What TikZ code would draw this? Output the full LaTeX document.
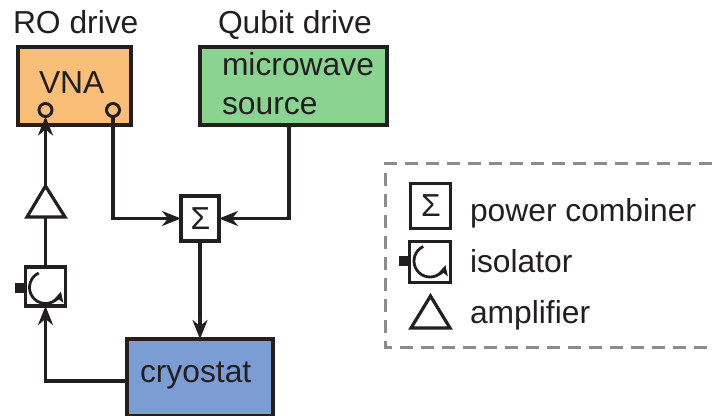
\documentclass[tikz,border=0pt]{standalone}
\usepackage{fontspec}
\setmainfont{Liberation Sans}
\usetikzlibrary{arrows.meta}
\definecolor{ink}{HTML}{231F20}
\definecolor{vnacol}{HTML}{F9BE78}
\definecolor{mwcol}{HTML}{8AD391}
\definecolor{cryocol}{HTML}{7C9DD3}
\definecolor{dashcol}{HTML}{8C8C8C}
\tikzset{
  x=1pt,y=1pt,
  every node/.style={text=ink,inner sep=0pt,outer sep=0pt},
  lbl/.style={anchor=base west,font=\fontsize{31.8}{32}\selectfont},
  box/.style={draw=ink,line width=3.4pt,anchor=north west},
  symbox/.style={draw=ink,fill=white,line width=3.4pt,anchor=center,font=\fontsize{31.8}{32}\selectfont},
  port/.style={circle,draw=ink,line width=3pt,minimum size=13pt},
  wire/.style={draw=ink,line width=3.3pt},
  arrow/.style={wire,-{Stealth[length=19pt,width=15pt,inset=6pt]}},
  ampl/.style={draw=ink,line width=3.2pt,fill=white,line join=miter},
  pics/circ/.style={code={
    \fill[ink] (-31,-5) rectangle (-22,5);
    \draw[ink,line width=2.8pt,-{Stealth[length=10pt,width=10pt,inset=2pt]}] (115:16) arc (115:345:16);
  }}
}
\begin{document}
\begin{tikzpicture}
\useasboundingbox (0,0) rectangle (712,-415);
% main boxes
\node[box,fill=vnacol,minimum width=113pt,minimum height=78pt] (vna) at (18,-47) {};
\node[box,fill=mwcol,minimum width=187pt,minimum height=78pt] (mw) at (200,-47) {};
\begin{scope}
\clip (0,0) rectangle (712,-415);
\node[box,fill=cryocol,minimum width=146pt,minimum height=77pt] (cryo) at (127,-339) {};
\end{scope}
\node[port] (pin) at (45.5,-110) {};
\node[port] (pout) at (113,-110) {};
\node[symbox,minimum width=38pt,minimum height=45pt] (sum) at (200,-218.5) {\rlap{\kern-9.5pt\raisebox{-11pt}{Σ}}};
\node[symbox,minimum width=40pt,minimum height=39pt] (iso) at (45.5,-286.5) {};
\pic at (45.5,-287.5) {circ};
\coordinate (amptop) at (45.5,-186);
\coordinate (ampbot) at (45.5,-217);
\draw[ampl] (amptop) -- (27,-217) -- (65,-217) -- cycle;
% text
\node[lbl] (t1) at (13,-33) {RO drive};
\node[lbl] (t2) at (218,-33) {Qubit drive};
\node[lbl] (t3) at (39,-93) {VNA};
\node[lbl] (t4) at (222,-75) {microwave};
\node[lbl] (t5) at (222,-114) {source};
\node[lbl] (t6) at (140,-382) {cryostat};
% connectors
\draw[arrow] (amptop) -- (pin.south);
\draw[wire] (iso.north) -- (ampbot);
\draw[arrow] (cryo.west |- 0,-381) -| (iso.south);
\draw[arrow] (pout.south) |- (sum.west);
\draw[arrow] (mw.south -| 289,0) |- (sum.east);
\draw[arrow] (sum.south) -- (sum.south |- cryo.north);
% legend
\draw[dashcol,line width=3pt,dash pattern=on 13pt off 8pt] (712,-163.5) -- (385.5,-163.5) -- (385.5,-347.5) -- (712,-347.5);
\node[symbox,minimum width=40pt,minimum height=45pt] (lsum) at (430.5,-206) {\rlap{\kern-9.5pt\raisebox{-11pt}{Σ}}};
\node[symbox,minimum width=41pt,minimum height=41pt] (liso) at (430,-262) {};
\pic at (430,-261) {circ};
\draw[ampl] (430.5,-296) -- (411,-328) -- (450,-328) -- cycle;
\node[lbl] at (470,-221) {power combiner};
\node[lbl] at (470,-272) {isolator};
\node[lbl] at (470,-323) {amplifier};
\end{tikzpicture}
\end{document}
